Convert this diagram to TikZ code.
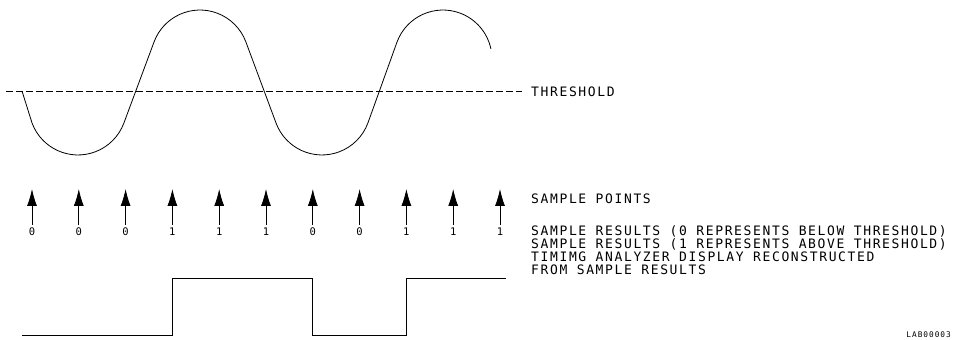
\documentclass[tikz,border=0pt]{standalone}
\usepackage{fontspec}
\usetikzlibrary{arrows.meta}
\newfontfamily\plotfont{DejaVu Sans Mono}[LetterSpace=12.5]
\tikzset{
  wave/.style={draw=black,line width=.8pt},
  thr/.style={draw=black,line width=.8pt,dash pattern=on 7pt off 3pt},
  sig/.style={draw=black,line width=.8pt},
  samp/.style={-{Latex[length=17pt,width=10pt]},draw=black,line width=.8pt},
  lbl/.style={anchor=base west,inner sep=0pt,font=\plotfont\fontsize{13}{15}\selectfont},
  dig/.style={anchor=base,inner sep=0pt,font=\plotfont\fontsize{10.5}{12}\selectfont},
  tag/.style={anchor=base east,inner sep=0pt,font=\plotfont\fontsize{7.8}{9}\selectfont},
}
\begin{document}
\begin{tikzpicture}[x=1pt,y=1pt]
  \useasboundingbox (0,0) rectangle (954,340);
  % input signal and threshold
  \draw[wave] (22,249) -- (32.1,216.8) arc[start angle=200.6,end angle=339.4,radius=49]
    -- (154.1,298.2) arc[start angle=159.4,end angle=20.6,radius=49]
    -- (276.1,216.8) arc[start angle=200.6,end angle=339.4,radius=49]
    -- (397.1,298.2) arc[start angle=159.4,end angle=12,radius=49];
  \node[lbl] (thr) at (531,243.3) {THRESHOLD};
  \coordinate (th0) at (6,249);
  \coordinate (th1) at (522,249);
  \draw[thr] (th0) -- (th1);
  % sample points
  \foreach \i/\v in {0/0,1/0,2/0,3/1,4/1,5/1,6/0,7/0,8/1,9/1,10/1} {
    \coordinate (b\i) at ({32+46.8*\i},115);
    \coordinate (t\i) at ({32+46.8*\i},151);
    \node[dig] (d\i) at ({32+46.8*\i},104) {\v};
    \draw[samp] (b\i) -- (t\i);
  }
  % reconstructed display
  \draw[sig] (22,5) -| (172,62) -| (312,5) -| (406,62) -- (506,62);
  \node[lbl] (pts) at (531,136) {SAMPLE POINTS};
  \node[lbl] (res0) at (531,104) {SAMPLE RESULTS (0 REPRESENTS BELOW THRESHOLD)};
  \node[lbl] (res1) at (531,91) {SAMPLE RESULTS (1 REPRESENTS ABOVE THRESHOLD)};
  \node[lbl] (disp) at (531,78) {TIMIMG ANALYZER DISPLAY RECONSTRUCTED};
  \node[lbl] (from) at (531,65) {FROM SAMPLE RESULTS};
  \node[tag] (lab) at (951,2.1) {LAB00003};
\end{tikzpicture}
\end{document}
